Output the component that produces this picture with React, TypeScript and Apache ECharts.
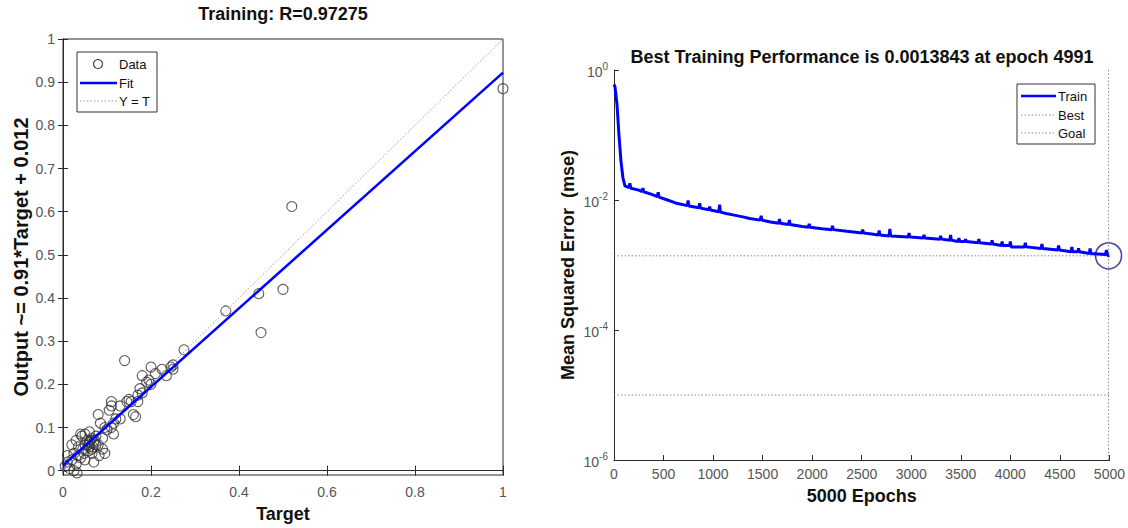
import React, { useEffect, useRef } from "react";
import * as echarts from "echarts";

// ---------- Left panel: regression (Training) ----------
const dataTarget = [
  1.0, 0.52, 0.5, 0.445, 0.45, 0.37, 0.275, 0.14,
  0.25, 0.25, 0.245, 0.2, 0.225, 0.235, 0.18, 0.195, 0.21, 0.175, 0.15, 0.16, 0.17,
  0.11, 0.11, 0.105, 0.08, 0.085, 0.115, 0.115, 0.095, 0.05, 0.04, 0.03, 0.06, 0.065,
  0.075, 0.08, 0.09, 0.065, 0.045, 0.025, 0.01, 0.01, 0.03, 0.05, 0.07, 0.032, 0.015,
  0.048, 0.066, 0.075, 0.043, 0.055, 0.06, 0.07, 0.058, 0.062, 0.068, 0.072, 0.05,
  0.02, 0.02, 0.035, 0.09, 0.1, 0.12, 0.13, 0.155, 0.18, 0.19, 0.2, 0.165, 0.17,
  0.095, 0.082, 0.04, 0.025, 0.005, 0.13, 0.145, 0.11, 0.06, 0.057, 0.035,
];
const dataOutput = [
  0.885, 0.612, 0.42, 0.41, 0.32, 0.37, 0.28, 0.255,
  0.245, 0.235, 0.24, 0.24, 0.235, 0.22, 0.22, 0.21, 0.225, 0.19, 0.165, 0.13, 0.16,
  0.16, 0.15, 0.14, 0.13, 0.11, 0.11, 0.085, 0.1, 0.085, 0.085, 0.07, 0.065, 0.075,
  0.06, 0.06, 0.05, 0.05, 0.05, 0.04, 0.035, 0.02, 0.015, 0.025, 0.02, -0.005, 0.005,
  0.04, 0.04, 0.08, 0.08, 0.07, 0.055, 0.065, 0.06, 0.07, 0.055, 0.07, 0.06,
  0.025, 0.06, 0.055, 0.075, 0.095, 0.12, 0.12, 0.16, 0.18, 0.205, 0.2, 0.125, 0.175,
  0.04, 0.035, 0.03, 0.0, 0.01, 0.15, 0.16, 0.1, 0.09, 0.045, 0.035,
];
const fitSlope = 0.91;
const fitIntercept = 0.012;
const leftXTicks = [0, 0.2, 0.4, 0.6, 0.8, 1];
const leftYTicks = [0, 0.1, 0.2, 0.3, 0.4, 0.5, 0.6, 0.7, 0.8, 0.9, 1];

// ---------- Right panel: performance ----------
const trainEpochs = [
  0, 10, 30, 50, 70, 90, 110,
  150, 160, 170, 250, 284, 292, 300, 380, 438, 446, 454, 540, 600, 630,
  740, 748, 756, 857, 865, 873, 957, 965, 973, 1058, 1066, 1074, 1133,
  1200, 1300, 1368, 1477, 1485, 1493, 1580, 1662, 1670, 1678, 1762, 1770, 1778,
  1900, 1962, 1970, 1978, 2100, 2197, 2205, 2213, 2350, 2502, 2510, 2518,
  2600, 2668, 2676, 2684, 2776, 2784, 2792, 2970, 2978, 2986,
  3121, 3129, 3137, 3289, 3297, 3305, 3389, 3397, 3405, 3473, 3481, 3489,
  3540, 3548, 3556, 3674, 3682, 3690, 3808, 3816, 3824, 3909, 3917, 3925,
  3992, 4000, 4008, 4143, 4151, 4159, 4311, 4319, 4327, 4479, 4487, 4495,
  4613, 4621, 4629, 4680, 4688, 4696, 4797, 4805, 4813, 4960, 4970, 4980, 4991, 5000,
];
const trainMse = [
  0.6, 0.55, 0.3, 0.1, 0.04, 0.022, 0.0165,
  0.0155, 0.018, 0.0152, 0.0142, 0.0135, 0.0152, 0.0134, 0.0122, 0.0113, 0.0132, 0.0111, 0.01, 0.0093, 0.0089,
  0.0082, 0.0098, 0.0081, 0.0076, 0.0089, 0.0075, 0.0071, 0.0079, 0.007, 0.0066, 0.0085, 0.0065, 0.0062,
  0.0059, 0.0055, 0.0052, 0.0049, 0.0057, 0.0049, 0.0046, 0.0044, 0.0051, 0.0044, 0.0042, 0.0049, 0.0042,
  0.0039, 0.0038, 0.0043, 0.0038, 0.0036, 0.0035, 0.0040, 0.0035, 0.0033, 0.0031, 0.0035, 0.0031,
  0.003, 0.0029, 0.0034, 0.0029, 0.0028, 0.0036, 0.0028, 0.0027, 0.0031, 0.0027,
  0.0026, 0.0029, 0.0026, 0.0025, 0.0028, 0.0025, 0.0024, 0.0029, 0.0024, 0.0023, 0.0026, 0.0023,
  0.0023, 0.0025, 0.0023, 0.0022, 0.0025, 0.0022, 0.0021, 0.0024, 0.0021, 0.002, 0.0023, 0.002,
  0.002, 0.0023, 0.0019, 0.0019, 0.0022, 0.0019, 0.0018, 0.0021, 0.0018, 0.0017, 0.002, 0.0017,
  0.0016, 0.0019, 0.0016, 0.0016, 0.0018, 0.0016, 0.0015, 0.0018, 0.0015, 0.00145, 0.0017, 0.00142, 0.0013843, 0.00139,
];
const bestEpoch = 4991;
const bestPerf = 0.0013843;
const goalPerf = 1e-5;
const epochMax = 5000;

const FONT = "'Liberation Sans', Arial, Helvetica, sans-serif";
const AXIS = "#2b2b2b";
const LABEL = "#555";

function gText(x: number, y: number, text: string, size: number, bold = false, align = "left") {
  return {
    type: "text",
    x,
    y,
    z: 20,
    style: {
      text,
      fill: "#111",
      fontSize: size,
      fontWeight: bold ? "bold" : "normal",
      fontFamily: FONT,
      align,
      textAlign: align,
      verticalAlign: "middle",
      textVerticalAlign: "middle",
    },
  };
}

export default function App() {
  const ref = useRef<HTMLDivElement>(null);
  useEffect(() => {
    if (!ref.current) return;
    const chart = echarts.init(ref.current, null, { renderer: "svg" });
    const scatterData = dataTarget.map((t, i) => [t, dataOutput[i]]);
    const trainData = trainEpochs.map((e, i) => [e, trainMse[i]]);
    const tickStyle = { inside: true, length: 5, lineStyle: { color: AXIS } };
    const labelStyle = { color: LABEL, fontSize: 14, fontFamily: FONT };
    const nameStyle = { color: "#111", fontSize: 18, fontWeight: "bold", fontFamily: FONT };

    const option: any = {
      animation: false,
      backgroundColor: "#fff",
      textStyle: { fontFamily: FONT },
      grid: [
        { left: 63, top: 39, width: 440, height: 439, show: true, borderColor: AXIS, borderWidth: 1, backgroundColor: "#fff" },
        { left: 614, top: 70, width: 497, height: 390, show: false },
      ],
      xAxis: [
        {
          gridIndex: 0, type: "value", min: 0, max: 1, interval: 0.2, position: "bottom",
          name: "Target", nameLocation: "middle", nameGap: 30, nameTextStyle: nameStyle,
          axisLine: { show: true, lineStyle: { color: AXIS } },
          axisTick: tickStyle,
          axisLabel: { ...labelStyle, margin: 10, customValues: leftXTicks, formatter: (v: number) => String(v) },
          splitLine: { show: false },
        },
        {
          gridIndex: 0, type: "value", min: 0, max: 1, interval: 0.2, position: "top",
          axisLine: { show: true, lineStyle: { color: AXIS } },
          axisTick: tickStyle, axisLabel: { show: false }, splitLine: { show: false },
        },
        {
          gridIndex: 1, type: "value", min: 0, max: epochMax, interval: 500,
          name: "5000 Epochs", nameLocation: "middle", nameGap: 27, nameTextStyle: nameStyle,
          axisLine: { show: true, lineStyle: { color: AXIS } },
          axisTick: tickStyle,
          axisLabel: { ...labelStyle, margin: 7, formatter: (v: number) => String(v) },
          splitLine: { show: false },
        },
      ],
      yAxis: [
        {
          gridIndex: 0, type: "value", min: -0.01, max: 1, position: "left",
          name: "Output ~= 0.91*Target + 0.012", nameLocation: "middle", nameGap: 32,
          nameTextStyle: { ...nameStyle, fontSize: 20 },
          axisLine: { show: true, lineStyle: { color: AXIS } },
          axisTick: { ...tickStyle, customValues: leftYTicks },
          axisLabel: { ...labelStyle, margin: 8, customValues: leftYTicks, formatter: (v: number) => String(v) },
          splitLine: { show: false },
        },
        {
          gridIndex: 0, type: "value", min: -0.01, max: 1, position: "right",
          axisLine: { show: true, lineStyle: { color: AXIS } },
          axisTick: { ...tickStyle, customValues: leftYTicks },
          axisLabel: { show: false }, splitLine: { show: false },
        },
        {
          gridIndex: 1, type: "log", logBase: 10, min: 1e-6, max: 1, interval: 2,
          name: "Mean Squared Error  (mse)", nameLocation: "middle", nameGap: 37, nameTextStyle: nameStyle,
          axisLine: { show: true, lineStyle: { color: AXIS } },
          axisTick: tickStyle,
          axisLabel: {
            ...labelStyle,
            margin: 6,
            formatter: (v: number) => `{b|10}{s|${Math.round(Math.log10(v))}}`,
            rich: {
              b: { fontSize: 14, color: LABEL, fontFamily: FONT, verticalAlign: "bottom", lineHeight: 18 },
              s: { fontSize: 10, color: LABEL, fontFamily: FONT, verticalAlign: "top", lineHeight: 18, padding: [0, 0, 6, 0] },
            },
          },
          splitLine: { show: false },
        },
      ],
      series: [
        {
          name: "Y = T", type: "line", xAxisIndex: 0, yAxisIndex: 0, symbol: "none",
          data: [[0, 0], [1, 1]],
          lineStyle: { color: "#9a9a9a", width: 1, type: [1.5, 2] },
        },
        {
          name: "Data", type: "scatter", xAxisIndex: 0, yAxisIndex: 0, symbol: "circle", symbolSize: 10,
          data: scatterData,
          itemStyle: { color: "rgba(0,0,0,0)", borderColor: "#333", borderWidth: 1.1 },
        },
        {
          name: "Fit", type: "line", xAxisIndex: 0, yAxisIndex: 0, symbol: "none",
          data: [[0, fitIntercept], [1, fitSlope + fitIntercept]],
          lineStyle: { color: "#0000ff", width: 2.5 },
        },
        {
          name: "Goal", type: "line", xAxisIndex: 2, yAxisIndex: 2, symbol: "none",
          data: [[0, goalPerf], [epochMax, goalPerf]],
          lineStyle: { color: "#8a8a8a", width: 1, type: [1.5, 2] },
        },
        {
          name: "Best", type: "line", xAxisIndex: 2, yAxisIndex: 2, symbol: "none",
          data: [[0, bestPerf], [epochMax, bestPerf]],
          lineStyle: { color: "#8a8a8a", width: 1, type: [1.5, 2] },
        },
        {
          name: "BestV", type: "line", xAxisIndex: 2, yAxisIndex: 2, symbol: "none",
          data: [[bestEpoch, 1e-6], [bestEpoch, 1]],
          lineStyle: { color: "#8a8a8a", width: 1, type: [1.5, 2] },
        },
        {
          name: "Train", type: "line", xAxisIndex: 2, yAxisIndex: 2, symbol: "none",
          data: trainData,
          lineStyle: { color: "#0000ff", width: 3 },
        },
        {
          name: "BestPt", type: "scatter", xAxisIndex: 2, yAxisIndex: 2, symbol: "circle", symbolSize: 26,
          data: [[bestEpoch, bestPerf]],
          itemStyle: { color: "rgba(0,0,0,0)", borderColor: "#1c1c80", borderWidth: 1.6 },
        },
      ],
      graphic: [
        gText(283, 14, "Training: R=0.97275", 18, true, "center"),
        gText(862, 57, "Best Training Performance is 0.0013843 at epoch 4991", 18, true, "center"),
        // left legend
        { type: "rect", z: 19, shape: { x: 77, y: 52, width: 80, height: 60 }, style: { fill: "#fff", stroke: "#333", lineWidth: 1 } },
        { type: "circle", z: 20, shape: { cx: 98, cy: 64, r: 4.5 }, style: { fill: "none", stroke: "#333", lineWidth: 1.1 } },
        gText(119, 64, "Data", 13),
        { type: "line", z: 20, shape: { x1: 80, y1: 83, x2: 117, y2: 83 }, style: { stroke: "#0000ff", lineWidth: 2.5 } },
        gText(119, 83, "Fit", 13),
        { type: "line", z: 20, shape: { x1: 80, y1: 101, x2: 117, y2: 101 }, style: { stroke: "#9a9a9a", lineWidth: 1, lineDash: [1.5, 2] } },
        gText(119, 101, "Y = T", 13),
        // right legend
        { type: "rect", z: 19, shape: { x: 1017, y: 84, width: 78, height: 60 }, style: { fill: "#fff", stroke: "#333", lineWidth: 1 } },
        { type: "line", z: 20, shape: { x1: 1021, y1: 96, x2: 1056, y2: 96 }, style: { stroke: "#0000ff", lineWidth: 2.5 } },
        gText(1058, 96, "Train", 13),
        { type: "line", z: 20, shape: { x1: 1021, y1: 115, x2: 1056, y2: 115 }, style: { stroke: "#8a8a8a", lineWidth: 1, lineDash: [1.5, 2] } },
        gText(1058, 115, "Best", 13),
        { type: "line", z: 20, shape: { x1: 1021, y1: 133, x2: 1056, y2: 133 }, style: { stroke: "#8a8a8a", lineWidth: 1, lineDash: [1.5, 2] } },
        gText(1058, 133, "Goal", 13),
      ],
    };
    chart.setOption(option);
    return () => chart.dispose();
  }, []);
  return <div ref={ref} style={{ position: "fixed", left: 0, top: 0, width: 1128, height: 528, background: "#fff" }} />;
}
